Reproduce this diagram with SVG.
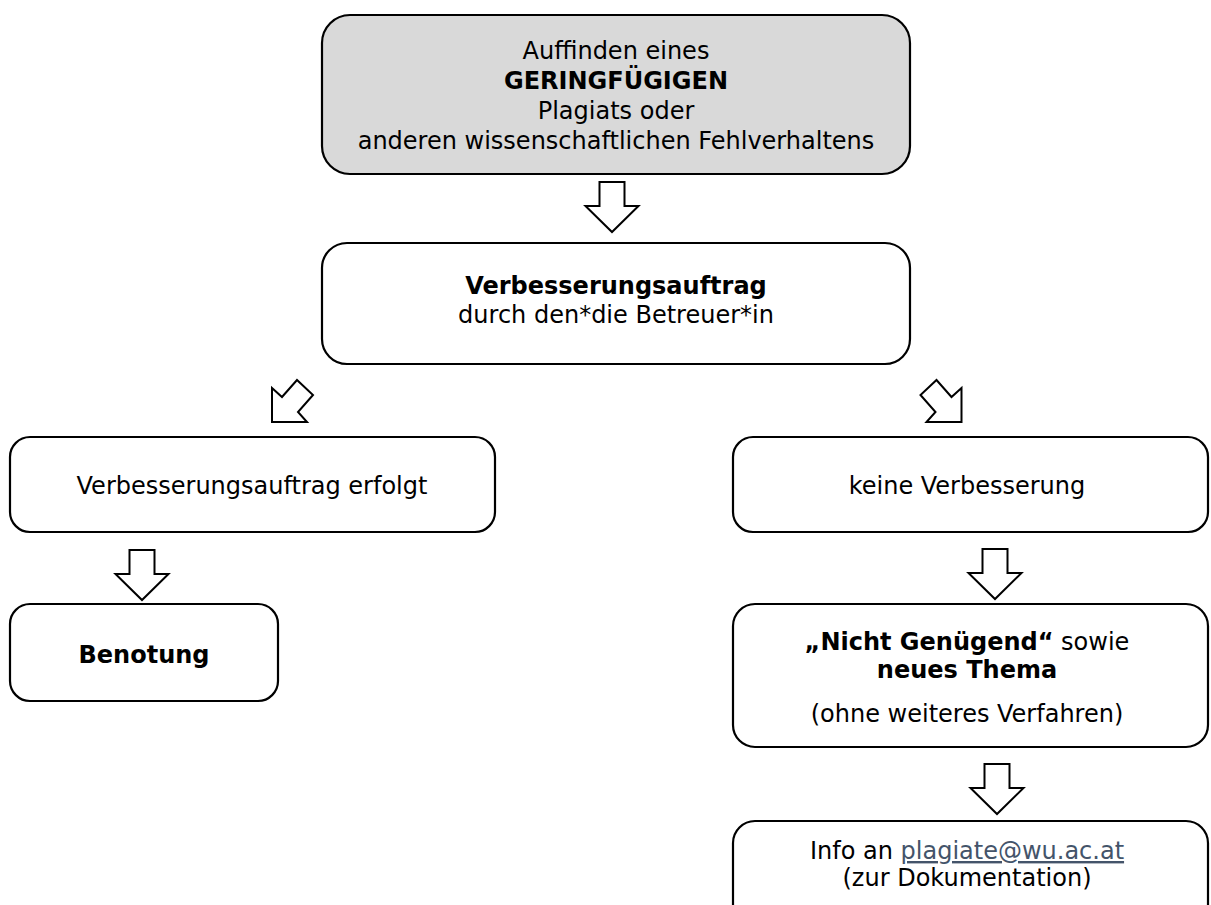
<svg xmlns="http://www.w3.org/2000/svg" width="1211" height="905" viewBox="0 0 1211 905">
<defs>
<style>
.box{fill:#ffffff;stroke:#000000;stroke-width:2.2}
.grey{fill:#d9d9d9}
.arr{fill:#ffffff;stroke:#000000;stroke-width:2;stroke-linejoin:miter}
text{font-family:"DejaVu Sans","Verdana",sans-serif;font-size:24px;fill:#000000;text-anchor:middle}
.b{font-weight:bold}
.link{fill:#44546a;text-decoration:underline}
</style>
<path id="darr" d="M-12.5,0 H12.5 V24 H26.5 L0,50 L-26.5,24 H-12.5 Z"/>
</defs>
<rect width="1211" height="905" fill="#ffffff"/>

<g id="n1">
<rect class="box grey" x="322" y="15" width="588" height="159" rx="28" ry="28"/>
<text x="616" y="59">Auffinden eines</text>
<text class="b" x="616" y="89">GERINGFÜGIGEN</text>
<text x="616" y="119">Plagiats oder</text>
<text x="616" y="149">anderen wissenschaftlichen Fehlverhaltens</text>
</g>

<g id="n2">
<rect class="box" x="322" y="243" width="588" height="121" rx="25" ry="25"/>
<text class="b" x="616" y="294">Verbesserungsauftrag</text>
<text x="616" y="323">durch den*die Betreuer*in</text>
</g>

<g id="n3">
<rect class="box" x="10" y="437" width="485" height="95" rx="20" ry="20"/>
<text x="252" y="494">Verbesserungsauftrag erfolgt</text>
</g>

<g id="n4">
<rect class="box" x="10" y="604" width="268" height="97" rx="20" ry="20"/>
<text class="b" x="144" y="663">Benotung</text>
</g>

<g id="n5">
<rect class="box" x="733" y="437" width="475" height="95" rx="20" ry="20"/>
<text x="967" y="494">keine Verbesserung</text>
</g>

<g id="n6">
<rect class="box" x="733" y="604" width="475" height="143" rx="22" ry="22"/>
<text x="967" y="650"><tspan class="b">„Nicht Genügend“</tspan> sowie</text>
<text class="b" x="967" y="678">neues Thema</text>
<text x="967" y="722">(ohne weiteres Verfahren)</text>
</g>

<g id="n7">
<rect class="box" x="733" y="821" width="475" height="140" rx="22" ry="22"/>
<text x="967" y="859">Info an <tspan class="link">plagiate@wu.ac.at</tspan></text>
<text x="967" y="886">(zur Dokumentation)</text>
</g>

<g id="connectors">
<use href="#darr" class="arr" transform="translate(612,182)"/>
<polygon class="arr" points="272,422 272,388 282,397 297,380 313,395 298,412 307,422"/>
<polygon class="arr" points="961.5,422 961.5,388 951.5,397 936.5,380 920.5,395 935.5,412 926.5,422"/>
<use href="#darr" class="arr" transform="translate(142,550)"/>
<use href="#darr" class="arr" transform="translate(995,549)"/>
<use href="#darr" class="arr" transform="translate(997,764)"/>
</g>
</svg>
